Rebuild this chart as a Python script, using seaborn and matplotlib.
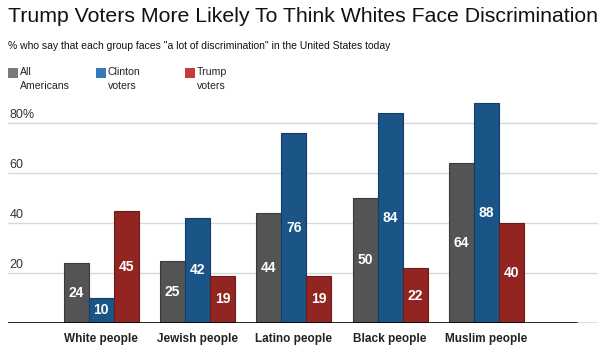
import pandas as pd
import matplotlib.pyplot as plt
import matplotlib.patches as mpatches
import matplotlib.transforms as mtransforms
import seaborn as sns

# Chart data
categories = ["White people", "Jewish people", "Latino people", "Black people", "Muslim people"]
series_names = ["All\nAmericans", "Clinton\nvoters", "Trump\nvoters"]
all_americans = [24, 25, 44, 50, 64]
clinton_voters = [10, 42, 76, 84, 88]
trump_voters = [45, 19, 19, 22, 40]
y_ticks = [20, 40, 60, 80]

bar_colors = ["#545454", "#1b5487", "#922521"]
edge_colors = ["#3a3a3a", "#123d66", "#6e1a17"]
legend_colors = ["#7a7a7a", "#3579b8", "#c33d36"]

df = pd.DataFrame({
    "group": categories * 3,
    "series": [series_names[0]] * 5 + [series_names[1]] * 5 + [series_names[2]] * 5,
    "value": all_americans + clinton_voters + trump_voters,
})

sns.set_style("white")
plt.rcParams["font.family"] = ["Liberation Sans", "DejaVu Sans"]

fig = plt.figure(figsize=(6.06, 3.51), dpi=100)
ax = fig.add_axes([8 / 606, 1 - 323 / 351, 590 / 606, 225 / 351])

sns.barplot(data=df, x="group", y="value", hue="series", palette=bar_colors,
            width=0.78, gap=0, ax=ax, legend=False, saturation=1)

for container, ec in zip(ax.containers, edge_colors):
    for bar in container:
        bar.set_edgecolor(ec)
        bar.set_linewidth(0.8)
    ax.bar_label(container, label_type="center", color="white",
                 fontweight="bold", fontsize=10)

ax.set_xlim(-0.97, 5.16)
ax.set_ylim(0, 90)
ax.set_xlabel("")
ax.set_ylabel("")
ax.set_yticks([])
ytrans = mtransforms.blended_transform_factory(ax.transAxes, ax.transData)
for y in y_ticks:
    ax.axhline(y, color="#d8d8d8", linewidth=1, zorder=0)
    label = f"{y}%" if y == y_ticks[-1] else str(y)
    ax.text(0.003, y + 0.9, label, transform=ytrans,
            ha="left", va="bottom", fontsize=9, color="#333333")
ax.axhline(0, xmin=0, xmax=570 / 590, color="black", linewidth=1.2, zorder=3)
ax.axhline(0, xmin=570 / 590, xmax=1, color="#d8d8d8", linewidth=1.2, zorder=3)

ax.tick_params(axis="x", length=0, pad=7)
for t in ax.get_xticklabels():
    t.set_fontweight("bold")
    t.set_fontsize(8.5)
    t.set_color("#222222")
sns.despine(ax=ax, left=True, bottom=True)

fig.text(8 / 606, 1 - 16 / 351, "Trump Voters More Likely To Think Whites Face Discrimination",
         fontsize=15.3, va="center", ha="left", color="#111111")
fig.text(8 / 606, 1 - 46 / 351,
         "% who say that each group faces \"a lot of discrimination\" in the United States today",
         fontsize=7.5, va="center", ha="left", color="#111111")

# Manual legend
legend_x = [8, 96, 185]
for x, name, c in zip(legend_x, series_names, legend_colors):
    fig.patches.append(mpatches.Rectangle((x / 606, 1 - 78 / 351), 10 / 606, 10 / 351,
                                          transform=fig.transFigure, facecolor=c, edgecolor="none"))
    fig.text((x + 12) / 606, 1 - 67 / 351, name, fontsize=7.6, va="top", ha="left",
             color="#222222", linespacing=1.5)

fig.savefig("out.png", dpi=100)
